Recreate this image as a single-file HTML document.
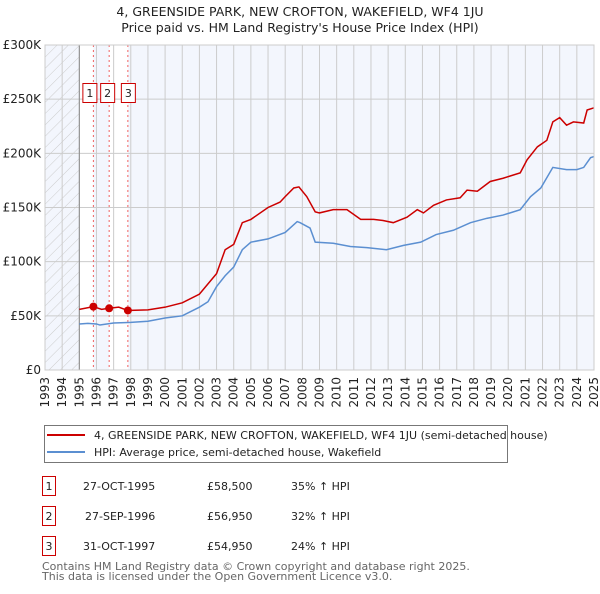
<!DOCTYPE html>
<html><head><meta charset="utf-8"><style>
body{margin:0;width:600px;height:590px;background:#fff;font-family:"DejaVu Sans","Liberation Sans",sans-serif;overflow:hidden}
svg text{font-family:"DejaVu Sans","Liberation Sans",sans-serif}
</style></head><body>
<svg id="chart" width="600" height="590" xmlns="http://www.w3.org/2000/svg">
<defs><pattern id="hatch" width="8" height="8" patternUnits="userSpaceOnUse" patternTransform="rotate(45)"><line x1="0" y1="0" x2="0" y2="8" stroke="#ccc" stroke-width="1"/></pattern></defs>
<text x="300" y="16" font-size="12.5" text-anchor="middle" fill="#222">4, GREENSIDE PARK, NEW CROFTON, WAKEFIELD, WF4 1JU</text>
<text x="300" y="32" font-size="12.5" text-anchor="middle" fill="#222">Price paid vs. HM Land Registry's House Price Index (HPI)</text>
<g id="plot"></g>
<g>
<rect x="44.5" y="425.5" width="463" height="37" fill="#fff" stroke="#777"/>
<line x1="47" y1="435" x2="85" y2="435" stroke="#cc0000" stroke-width="2"/>
<text x="94" y="439" font-size="11" fill="#222">4, GREENSIDE PARK, NEW CROFTON, WAKEFIELD, WF4 1JU (semi-detached house)</text>
<line x1="47" y1="452" x2="85" y2="452" stroke="#5b8fd1" stroke-width="2"/>
<text x="94" y="456" font-size="11" fill="#222">HPI: Average price, semi-detached house, Wakefield</text>
</g>
<g font-size="11" fill="#222">
<rect x="42.5" y="476.5" width="13" height="19" fill="#fff" stroke="#cc0000"/><text x="49" y="490" text-anchor="middle">1</text>
<text x="83" y="490">27-OCT-1995</text><text x="207" y="490">£58,500</text><text x="291" y="490">35% ↑ HPI</text>
<rect x="42.5" y="506.5" width="13" height="19" fill="#fff" stroke="#cc0000"/><text x="49" y="520" text-anchor="middle">2</text>
<text x="85" y="520">27-SEP-1996</text><text x="207" y="520">£56,950</text><text x="291" y="520">32% ↑ HPI</text>
<rect x="42.5" y="536.5" width="13" height="19" fill="#fff" stroke="#cc0000"/><text x="49" y="550" text-anchor="middle">3</text>
<text x="83" y="550">31-OCT-1997</text><text x="207" y="550">£54,950</text><text x="291" y="550">24% ↑ HPI</text>
</g>
<text x="42" y="570" font-size="11" fill="#666">Contains HM Land Registry data © Crown copyright and database right 2025.</text>
<text x="42" y="580" font-size="11" fill="#666">This data is licensed under the Open Government Licence v3.0.</text>
</svg>
<script>
const hpiYears=[1995,1995.5,1996,1996.2,1997,1998,1999,2000,2001,2002,2002.5,2003,2003.5,2004,2004.5,2005,2006,2007,2007.7,2007.87,2008.45,2008.75,2009.8,2010.8,2011.76,2012.9,2013.9,2014.9,2015.8,2016.8,2017.8,2018.75,2019.7,2020.7,2021.3,2021.9,2022.6,2023.4,2024.0,2024.4,2024.8,2025];
const hpiValues=[42.5,43,42.5,41.5,43.4,44,45,48,50,58,63,77,87,95,111,118,121,127,137,136,131,118,117,114,113,111,115,118,125,129,136,140,143,148,160,168,187,185,185,187,196,197];
const priceYears=[1995,1995.82,1996.3,1996.74,1997.3,1997.83,1998,1999,2000,2001,2002,2003,2003.5,2004,2004.5,2005,2006,2006.7,2007,2007.5,2007.8,2008.26,2008.75,2009.0,2009.8,2010.6,2011.4,2012.15,2012.7,2013.3,2014.1,2014.7,2015.06,2015.65,2016.4,2017.2,2017.6,2018.2,2018.95,2019.7,2020.7,2021.1,2021.7,2022.25,2022.6,2023.0,2023.4,2023.8,2024.4,2024.6,2025];
const priceValues=[56,58.5,56,56.95,58,54.95,55,55.5,58,62,70,89,111,116,136,139,150,155,160,168,169,160,146,145,148,148,139,139,138,136,141,148,145,152,157,159,166,165,174,177,182,194,206,212,229,233,226,229,228,240,242];
const saleYears=[1995.82,1996.74,1997.83];
const saleValues=[58.5,56.95,54.95];
const saleLabels=["1","2","3"];
const yTicks=[0,50,100,150,200,250,300];
const yTickLabels=["£0","£50K","£100K","£150K","£200K","£250K","£300K"];
const xTicks=[1993,1994,1995,1996,1997,1998,1999,2000,2001,2002,2003,2004,2005,2006,2007,2008,2009,2010,2011,2012,2013,2014,2015,2016,2017,2018,2019,2020,2021,2022,2023,2024,2025];

const L=45,R=594,T=45,B=370;
const x=y=>L+(y-1993)*(R-L)/32;
const yv=v=>B-v*(B-T)/300;
const NS="http://www.w3.org/2000/svg";
const g=document.getElementById('plot');
function mk(t,a){const e=document.createElementNS(NS,t);for(const k in a)e.setAttribute(k,a[k]);g.appendChild(e);return e;}
let e;
e=mk('rect',{x:L,y:T,width:R-L,height:B-T,fill:'#f3f6fd'});


e=mk('rect',{x:x(1995),y:T,width:x(saleYears[0])-x(1995),height:B-T,fill:'#fff'});


e=mk('rect',{x:x(saleYears[1]),y:T,width:x(saleYears[2])-x(saleYears[1]),height:B-T,fill:'#fff'});


e=mk('rect',{x:L,y:T,width:x(1995)-L,height:B-T,fill:'url(#hatch)'});


xTicks.forEach(t=>{
 e=mk('line',{x1:x(t),y1:T,x2:x(t),y2:B,stroke:'#ccc','stroke-width':1});
 
 
 e=mk('text',{x:0,y:0,'font-size':12,fill:'#222','text-anchor':'end',transform:`translate(${x(t)+4},${B+7}) rotate(-90)`});
 e.textContent=t;
 
 
});
yTicks.forEach((t,i)=>{
 e=mk('line',{x1:L,y1:yv(t),x2:R,y2:yv(t),stroke:'#ccc','stroke-width':1});
 
 
 e=mk('text',{x:L-4,y:yv(t)+4,'font-size':12,fill:'#222','text-anchor':'end'});
 e.textContent=yTickLabels[i];
 
 
});
e=mk('line',{x1:x(1995),y1:T,x2:x(1995),y2:B,stroke:'#888','stroke-width':1});


e=mk('line',{x1:R,y1:T,x2:R,y2:B,stroke:'#888','stroke-width':1});


saleYears.forEach((s,i)=>{
 e=mk('line',{x1:x(s),y1:T,x2:x(s),y2:B,stroke:'#f06060','stroke-width':1,'stroke-dasharray':'2,3'});
 
 
});
e=mk('polyline',{points:hpiYears.map((t,i)=>x(t)+','+yv(hpiValues[i])).join(' '),fill:'none',stroke:'#5b8fd1','stroke-width':1.5});


e=mk('polyline',{points:priceYears.map((t,i)=>x(t)+','+yv(priceValues[i])).join(' '),fill:'none',stroke:'#cc0000','stroke-width':1.5});


saleYears.forEach((s,i)=>{
 e=mk('circle',{cx:x(s),cy:yv(saleValues[i]),r:4,fill:'#cc0000'});
 
 
 const bx=[x(s)-11,x(s)-9,x(s)-7][i];
 e=mk('rect',{x:bx+0.5,y:83.5,width:14,height:19,fill:'#fff',stroke:'#cc0000'});
 
 
 e=mk('text',{x:bx+7.5,y:97,'font-size':11,fill:'#222','text-anchor':'middle'});
 e.textContent=saleLabels[i];
 
 
});
e=mk('rect',{x:L,y:T,width:R-L,height:B-T,fill:'none',stroke:'#ccc'});


</script>
</body></html>
